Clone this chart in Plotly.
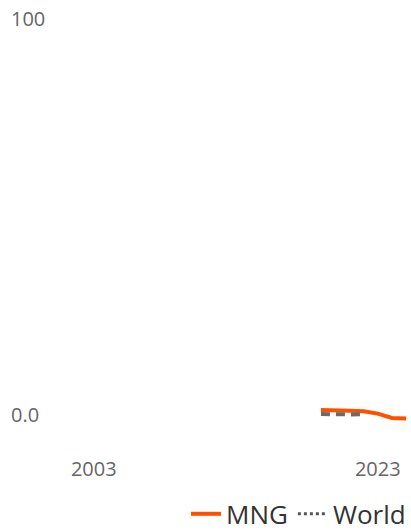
import plotly.graph_objects as go

mng_years = [2019, 2020, 2021, 2022, 2023, 2024, 2025]
mng_values = [1.3, 1.3, 1.1, 1.0, 0.4, -0.7, -0.8]
world_years = [2019, 2020, 2021, 2022]
world_values = [0.3, 0.2, 0.2, 0.3]
x_ticks = [2003, 2023]
y_ticks = [0, 100]
y_ticktext = ["0.0", "100"]

fig = go.Figure()
fig.add_trace(go.Scatter(x=mng_years, y=mng_values, mode="lines", name="MNG",
                         line=dict(color="#ff5000", width=4), showlegend=True))
fig.add_trace(go.Scatter(x=world_years, y=world_values, mode="lines", name="World",
                         line=dict(color="#6b6b6b", width=4, dash="9px,6px"), showlegend=False))
fig.add_trace(go.Scatter(x=[None], y=[None], mode="lines", name="World",
                         line=dict(color="#555555", width=3, dash="dot"), showlegend=True))

fig.update_layout(
    width=411, height=532,
    margin=dict(l=8, r=3, t=3, b=93),
    paper_bgcolor="white", plot_bgcolor="white",
    font=dict(family="Open Sans, sans-serif", color="#666666", size=20),
    xaxis=dict(range=[1996.96, 2025.13], tickvals=x_ticks, ticktext=[str(v) for v in x_ticks],
               showgrid=False, zeroline=False, showline=False,
               ticks="outside", ticklen=12, tickcolor="rgba(0,0,0,0)",
               tickfont=dict(size=20, color="#666666")),
    yaxis=dict(range=[-6, 104], tickvals=y_ticks, ticktext=y_ticktext,
               showgrid=False, zeroline=False, showline=False,
               ticklabelposition="inside", tickfont=dict(size=20, color="#666666")),
    legend=dict(orientation="h", xref="container", x=1.0, xanchor="right",
                yref="container", y=0.034, yanchor="middle",
                font=dict(size=26, color="#333333"), itemwidth=30,
                bgcolor="rgba(0,0,0,0)"),
)
fig.write_html("out.html", config={"displayModeBar": False},
               post_script="document.body.style.margin='0';document.body.style.overflow='hidden';")
